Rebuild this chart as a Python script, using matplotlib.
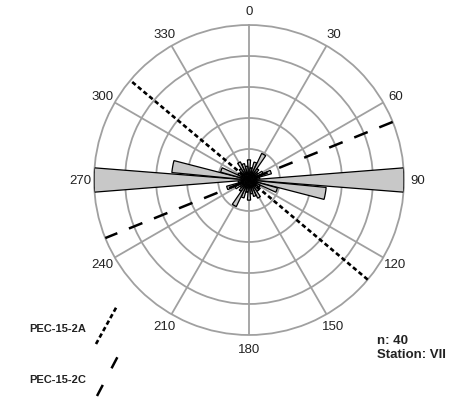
import numpy as np
import matplotlib
matplotlib.use("Agg")
import matplotlib.pyplot as plt
from matplotlib.lines import Line2D

plt.rcParams['font.family'] = ['Liberation Sans', 'DejaVu Sans']

# rose diagram data (bidirectional, 10 degree bins, half circle, mirrored below)
bin_centres = [0, 10, 20, 30, 40, 50, 60, 70, 80, 90, 100, 110, 120, 130, 140, 150, 160, 170]
bin_values = [1.3, 0.8, 1.2, 1.9, 0.9, 0.7, 1.0, 1.5, 0.7, 10.0, 5.0, 1.9, 0.8, 0.6, 0.9, 1.3, 1.1, 0.9]

# mean planes drawn as lines through the centre
plane_names = ['PEC-15-2A', 'PEC-15-2C']
plane_azimuths = [130, 68]

angle_ticks = [0, 30, 60, 90, 120, 150, 180, 210, 240, 270, 300, 330]
ring_values = [2, 4, 6, 8]
r_max = 10

grid_col = '#a0a0a0'

fig = plt.figure(figsize=(4.70, 4.02), dpi=100)
ax = fig.add_axes([0.2, 0.1642, 0.6596, 0.7711], projection='polar')
ax.set_theta_zero_location('N')
ax.set_theta_direction(-1)
ax.set_ylim(0, r_max)

# grid
ax.set_rgrids(ring_values, labels=[])
ax.set_thetagrids(angle_ticks, labels=[])
ax.grid(True, color=grid_col, lw=1.3)
ax.spines['polar'].set_color(grid_col)
ax.spines['polar'].set_linewidth(1.3)
ax.set_axisbelow(True)
ax.tick_params(length=0)

for a in angle_ticks:
    ax.text(np.radians(a), 10.9, str(a), ha='center', va='center',
            fontsize=9.5, color='#222222', clip_on=False)

# petals
th = np.radians(bin_centres + [c + 180 for c in bin_centres])
vals = bin_values + bin_values
ax.bar(th, vals, width=np.radians(9), bottom=0, color='#c8c8c8',
       edgecolor='black', linewidth=0.9, zorder=3)

# planes
styles = [dict(dashes=(1.7, 1.1), lw=1.9), dict(dashes=(5.8, 5.0), lw=1.8)]
for az, st in zip(plane_azimuths, styles):
    t = np.radians(az)
    ax.plot([t, t, t + np.pi], [r_max, 0, r_max], color='black',
            zorder=4, clip_on=False, **st)

# legend
fig.text(86 / 470, 1 - 329 / 402, plane_names[0], ha='right', va='center',
         fontsize=8, fontweight='bold', color='#222222')
fig.text(86 / 470, 1 - 380 / 402, plane_names[1], ha='right', va='center',
         fontsize=8, fontweight='bold', color='#222222')
fig.add_artist(Line2D([96 / 470, 117 / 470], [1 - 345 / 402, 1 - 307 / 402],
                      color='black', lw=1.9, dashes=(1.7, 1.1)))
fig.add_artist(Line2D([97 / 470, 118 / 470], [1 - 397 / 402, 1 - 357 / 402],
                      color='black', lw=1.8, dashes=(5.0, 7.5)))

fig.text(377 / 470, 1 - 341 / 402, 'n: 40', ha='left', va='center',
         fontsize=9.5, fontweight='bold', color='#222222')
fig.text(377 / 470, 1 - 355 / 402, 'Station: VII', ha='left', va='center',
         fontsize=9.5, fontweight='bold', color='#222222')

fig.savefig('out.png', dpi=100)
